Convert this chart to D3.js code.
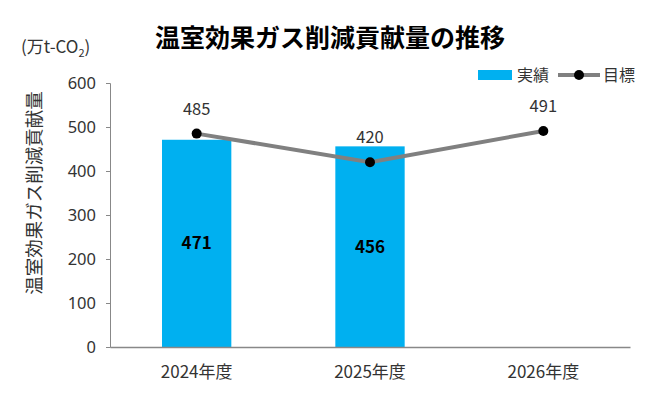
<!DOCTYPE html>
<html>
<head>
<meta charset="utf-8">
<script src="https://cdn.jsdelivr.net/npm/d3@7"></script>
<style>
  body { margin: 0; background: #fff; }
  text { font-family: "Noto Sans CJK JP", "Noto Sans", sans-serif; }
</style>
</head>
<body>
<div id="chart"></div>
<script>
const categories = ["2024年度", "2025年度", "2026年度"];
const actual = [471, 456, null];
const target = [485, 420, 491];
const yTicks = [0, 100, 200, 300, 400, 500, 600];

const width = 659, height = 400;
const margin = { top: 83, right: 29, bottom: 53, left: 110 };

const svg = d3.select("#chart").append("svg")
  .attr("width", width)
  .attr("height", height);

const x = d3.scaleBand()
  .domain(categories)
  .range([margin.left, width - margin.right])
  .paddingInner(0.6)
  .paddingOuter(0.3);

// band centers for line
const xc = d => x(d) + x.bandwidth() / 2;

const y = d3.scaleLinear()
  .domain([0, 600])
  .range([height - margin.bottom, margin.top]);

// title
svg.append("text")
  .attr("x", 330).attr("y", 47)
  .attr("text-anchor", "middle")
  .style("font-size", "25px")
  .style("font-weight", "bold")
  .text("温室効果ガス削減貢献量の推移");

// unit
const unit = svg.append("text")
  .attr("x", 21).attr("y", 53)
  .style("font-size", "17px")
  .style("fill", "#333");
unit.append("tspan").text("(万t-CO");
unit.append("tspan").attr("dy", 4).style("font-size", "11px").text("2");
unit.append("tspan").attr("dy", -4).text(")");

// y title
svg.append("text")
  .attr("transform", "translate(41,193) rotate(-90)")
  .attr("text-anchor", "middle")
  .style("font-size", "18.5px")
  .style("fill", "#333")
  .text("温室効果ガス削減貢献量");

// bars
const barData = categories.map((c, i) => ({ c, v: actual[i] })).filter(d => d.v != null);

svg.selectAll("rect.bar")
  .data(barData)
  .enter().append("rect")
  .attr("class", "bar")
  .attr("x", d => x(d.c))
  .attr("width", x.bandwidth())
  .attr("y", d => y(d.v))
  .attr("height", d => y(0) - y(d.v))
  .style("fill", "#00B0F0");

svg.selectAll("text.barlab")
  .data(barData)
  .enter().append("text")
  .attr("class", "barlab")
  .attr("x", d => xc(d.c))
  .attr("y", d => y(d.v / 2) + 6)
  .attr("text-anchor", "middle")
  .style("font-size", "17px")
  .style("font-weight", "bold")
  .text(d => d.v);

// axes
const yAxis = svg.append("g")
  .attr("transform", "translate(" + margin.left + ",0)")
  .call(d3.axisLeft(y).tickValues(yTicks).tickSize(4).tickPadding(10));
yAxis.select(".domain").attr("stroke", "#888");
yAxis.selectAll(".tick line").attr("stroke", "#888");
yAxis.selectAll(".tick text").style("font-size", "16.5px").style("fill", "#333")
  .style("font-family", "'Noto Sans', sans-serif");

const xAxis = svg.append("g")
  .attr("transform", "translate(0," + y(0) + ")")
  .call(d3.axisBottom(x).tickSize(0).tickPadding(19));
xAxis.select(".domain").attr("stroke", "#888").attr("stroke-width", 1.5);
xAxis.selectAll(".tick text").style("font-size", "17px").style("fill", "#333");

// target line
const line = d3.line()
  .x((d, i) => xc(categories[i]))
  .y(d => y(d));

svg.append("path")
  .datum(target)
  .attr("d", line)
  .style("fill", "none")
  .style("stroke", "#808080")
  .style("stroke-width", 4);

svg.selectAll("circle.pt")
  .data(target).enter()
  .append("circle")
  .attr("class", "pt")
  .attr("cx", (d, i) => xc(categories[i]))
  .attr("cy", d => y(d))
  .attr("r", 5)
  .style("fill", "#000");

svg.selectAll("text.ptlab")
  .data(target).enter()
  .append("text")
  .attr("class", "ptlab")
  .attr("x", (d, i) => xc(categories[i]))
  .attr("y", d => y(d) - 19)
  .attr("text-anchor", "middle")
  .style("font-size", "16.5px")
  .style("fill", "#333")
  .text(d => d);

// legend
const lg = svg.append("g");
lg.append("rect").attr("x", 478).attr("y", 70).attr("width", 34).attr("height", 10).style("fill", "#00B0F0");
lg.append("text").attr("x", 517).attr("y", 81).style("font-size", "16px").style("fill", "#333").text("実績");
lg.append("line").attr("x1", 558).attr("x2", 600).attr("y1", 75).attr("y2", 75)
  .style("stroke", "#808080").style("stroke-width", 4);
lg.append("circle").attr("cx", 579).attr("cy", 75).attr("r", 5).style("fill", "#000");
lg.append("text").attr("x", 603).attr("y", 81).style("font-size", "16px").style("fill", "#333").text("目標");
</script>
</body>
</html>
